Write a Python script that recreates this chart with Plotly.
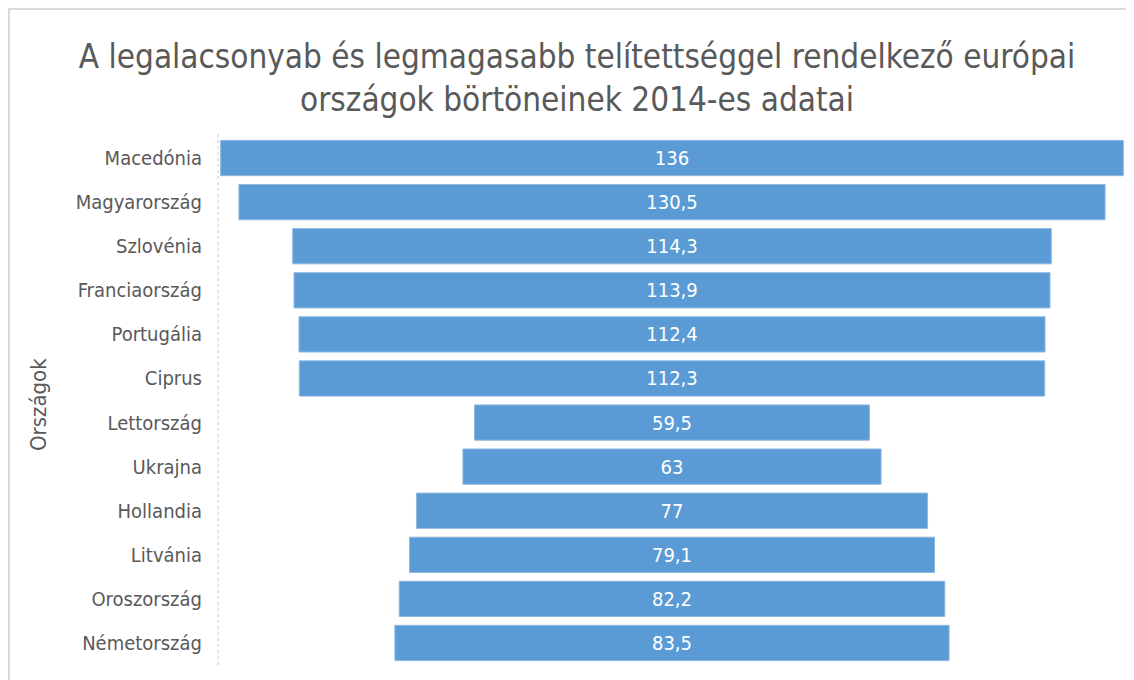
import plotly.graph_objects as go

countries = ["Macedónia", "Magyarország", "Szlovénia", "Franciaország", "Portugália", "Ciprus",
             "Lettország", "Ukrajna", "Hollandia", "Litvánia", "Oroszország", "Németország"]
values = [136, 130.5, 114.3, 113.9, 112.4, 112.3, 59.5, 63, 77, 79.1, 82.2, 83.5]
labels = [("%g" % v).replace(".", ",") for v in values]

title_text = "A legalacsonyab és legmagasabb telítettséggel rendelkező európai<br>országok börtöneinek 2014-es adatai"
axis_title = "Országok"

FONT = "DejaVu Sans Condensed, Liberation Sans Narrow, sans-serif"
GREY = "#595959"

# page body has an 8px margin, so the figure is 8px smaller than the window
W, H = 1126, 672
L, R, T, B = 212, 10, 128, 15

fig = go.Figure(go.Funnel(
    y=countries,
    x=values,
    text=labels,
    textinfo="text",
    textposition="inside",
    insidetextanchor="middle",
    textfont=dict(family=FONT, size=20, color="white"),
    marker=dict(color="#5B9BD5", line=dict(color="#8DB8E2", width=1)),
    connector=dict(visible=False),
    hoverinfo="y+x",
))

pw = W - L - R
ph = H - T - B

fig.update_layout(
    width=W, height=H,
    margin=dict(l=L, r=R, t=T, b=B),
    paper_bgcolor="white", plot_bgcolor="white",
    bargap=0.14,
    showlegend=False,
    separators=", ",
    title=dict(text=title_text, x=569 / W, xanchor="center", y=1 - 60 / H, yanchor="middle",
               font=dict(family=FONT, size=33, color=GREY)),
    xaxis=dict(range=[-68.1, 68.1], visible=False, fixedrange=True),
    yaxis=dict(categoryorder="array", categoryarray=countries, autorange="reversed",
               showgrid=False, zeroline=False, showline=False, ticks="",
               ticklabelstandoff=17,
               tickfont=dict(family=FONT, size=20, color=GREY)),
    annotations=[dict(text=axis_title, xref="paper", yref="paper",
                      x=(30 - L) / pw, y=(H - B - 397) / ph, textangle=-90,
                      showarrow=False, xanchor="center", yanchor="middle",
                      font=dict(family=FONT, size=22, color=GREY))],
    shapes=[
        dict(type="line", xref="paper", yref="paper", x0=-2 / pw, x1=-2 / pw, y0=0, y1=1 + 4 / ph,
             line=dict(color="#C8C8C8", width=1, dash="dot")),
        dict(type="rect", xref="paper", yref="paper",
             x0=(1 - L) / pw, x1=(W + 5 - L) / pw,
             y0=(H - B - (H + 5)) / ph, y1=(H - B - 1) / ph,
             line=dict(color="#D9D9D9", width=2), fillcolor="rgba(0,0,0,0)"),
    ],
)

fig.write_html("out.html")
